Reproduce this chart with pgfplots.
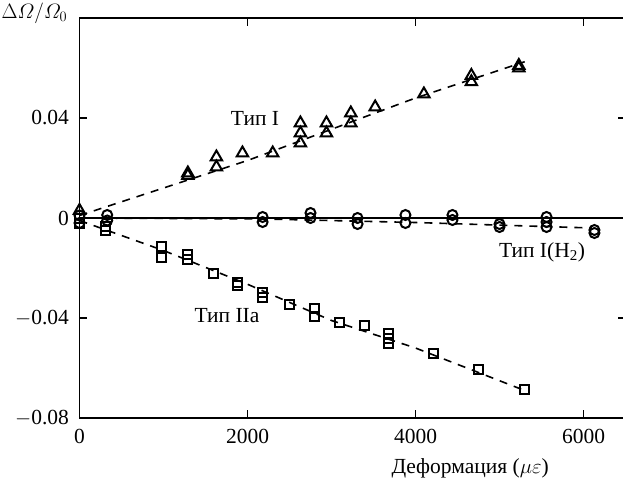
\documentclass[border=0pt]{standalone}
\usepackage{fontspec}
\setmainfont{Liberation Serif}
\usepackage{amsmath}
\usepackage{pgfplots}
\pgfplotsset{compat=1.18}
\begin{document}
\begin{tikzpicture}
\begin{axis}[
  scale only axis, width=546pt, height=400pt,
  xmin=0, xmax=6500, ymin=-0.08, ymax=0.08,
  scaled y ticks=false, scaled x ticks=false,
  axis line style={line width=1.2pt},
  tick style={line width=1.2pt, black},
  major tick length=8pt, tick align=inside,
  xtick={0,2000,4000,6000}, xticklabels={0,2000,4000,6000},
  ytick={-0.08,-0.04,0,0.04}, yticklabels={{$-$0.08},{$-$0.04},0,0.04},
  ticklabel style={font=\fontsize{21.5}{24}\selectfont},
  yticklabel style={xshift=-7pt},
  xticklabel style={yshift=-8pt},
  clip=false,
]
\addplot[black, line width=1.5pt, forget plot] coordinates {(0,0) (6500,0)};
% dashed fits
\addplot[black, line width=1.6pt, dash pattern=on 8pt off 7pt] coordinates {(0,0.001) (1000,0.012) (2000,0.023) (3000,0.0355) (4000,0.048) (5300,0.0625)};
\addplot[black, line width=1.6pt, dash pattern=on 8pt off 7pt] coordinates {(0,-0.001) (1000,-0.013) (2000,-0.0265) (3000,-0.041) (4000,-0.052) (5300,-0.069)};
\addplot[black, line width=1.6pt, dash pattern=on 8pt off 7pt] coordinates {(0,0) (2200,-0.0004) (4000,-0.0018) (6100,-0.004)};
% triangles
\addplot[only marks, mark=triangle, mark size=6.5pt, mark options={line width=2pt, black, fill=none}] coordinates {
(0,0.003) (1290,0.018) (1290,0.017) (1630,0.0244) (1630,0.0204) (1940,0.026) (2300,0.026)
(2630,0.038) (2630,0.034) (2630,0.030) (2940,0.038) (2940,0.034) (3230,0.042) (3230,0.038)
(3520,0.0444) (4100,0.0496) (4665,0.057) (4665,0.0545) (5230,0.061) (5230,0.060)};
% circles
\addplot[only marks, mark=o, mark size=5pt, mark options={line width=2pt, black, fill=none}] coordinates {
(0,0.001) (0,-0.002) (330,0.0012) (330,-0.001) (2180,0.0004) (2180,-0.0016)
(2750,0.002) (2750,0.0) (3310,0.0) (3310,-0.0024) (3880,0.0012) (3880,-0.002)
(4440,0.0012) (4440,-0.0008) (5000,-0.0024) (5000,-0.0036)
(5560,0.0004) (5560,-0.0016) (5560,-0.0036) (6130,-0.0048) (6130,-0.006)};
% squares
\addplot[only marks, mark=square, mark size=4.5pt, mark options={line width=2pt, black, fill=none}] coordinates {
(0,0.0) (0,-0.002) (310,-0.0048) (310,-0.0035) (975,-0.0112) (975,-0.0156)
(1290,-0.0144) (1290,-0.0164) (1590,-0.022) (1880,-0.0256) (1880,-0.0268)
(2180,-0.0296) (2180,-0.0316) (2500,-0.0344) (2800,-0.036) (2800,-0.0392)
(3100,-0.0416) (3390,-0.0428) (3680,-0.046) (3680,-0.048) (3680,-0.05)
(4215,-0.054) (4750,-0.0604) (5300,-0.0684)};
% labels
\node[font=\fontsize{21.5}{24}\selectfont] at (axis cs:2089,0.04) {Тип I};
\node[font=\fontsize{21.5}{24}\selectfont] at (axis cs:1756,-0.0392) {Тип IIa};
\node[font=\fontsize{21.5}{24}\selectfont] at (axis cs:5506,-0.0136) {Тип I(H\textsubscript{2})};
\node[font=\fontsize{21.5}{24}\selectfont] at (axis cs:4650,-0.08) [yshift=-50pt] {Деформация ($\mu\varepsilon$)};
\node[font=\fontsize{22}{24}\selectfont] at (rel axis cs:0,1) [xshift=-45pt, yshift=5pt] {$\Delta\varOmega/\varOmega_0$};
\coordinate (BL) at (rel axis cs:0,0);
\end{axis}
\pgfresetboundingbox
\path ([shift={(-79.5pt,-70pt)}]BL) rectangle ([shift={(543.5pt,418pt)}]BL);
\end{tikzpicture}
\end{document}
